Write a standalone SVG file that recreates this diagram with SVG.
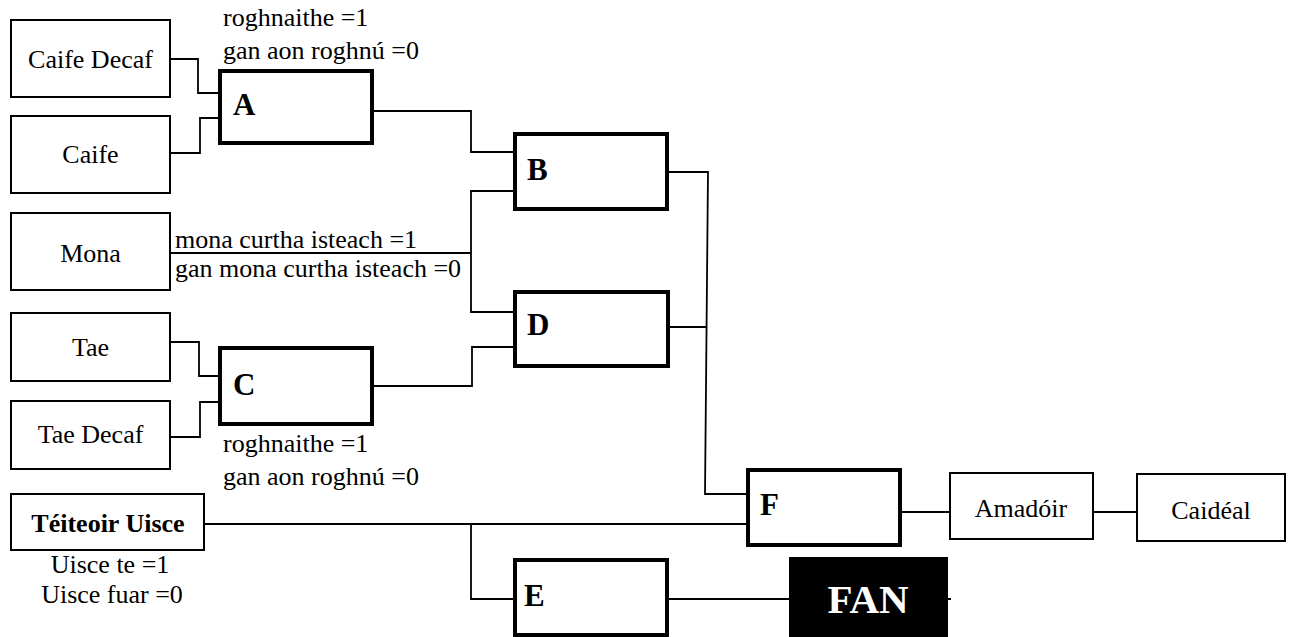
<svg xmlns="http://www.w3.org/2000/svg" width="1290" height="637" viewBox="0 0 1290 637">
<style>
  .thin{fill:#fff;stroke:#000;stroke-width:2}
  .thick{fill:#fff;stroke:#000;stroke-width:4}
  .conn{fill:none;stroke:#000;stroke-width:1.8}
  .t{font-family:"Liberation Serif","Times New Roman",serif;font-size:26px;fill:#000}
  .c{text-anchor:middle}
  .lbl{font-family:"Liberation Serif","Times New Roman",serif;font-size:31px;font-weight:bold;fill:#000}
</style>
<rect width="1290" height="637" fill="#fff"/>
<g id="connectors">
  <path class="conn" d="M171,59 H198 V93 H218"/>
  <path class="conn" d="M171,153 H200 V118 H218"/>
  <path class="conn" d="M374,111 H471 V152 H513"/>
  <path class="conn" d="M171,253 H471"/>
  <path class="conn" d="M513,191 H471 V312 H513"/>
  <path class="conn" d="M171,342 H199 V376 H218"/>
  <path class="conn" d="M171,437 H200 V402 H218"/>
  <path class="conn" d="M374,386 H472 V347 H513"/>
  <path class="conn" d="M669,172 H708 L705,494 H746"/>
  <path class="conn" d="M670,327 H707"/>
  <path class="conn" d="M205,524 H746"/>
  <path class="conn" d="M471,524 V599 H513"/>
  <path class="conn" d="M902,512 H949"/>
  <path class="conn" d="M1094,512 H1136"/>
  <path class="conn" d="M669,599 H951"/>
</g>
<g id="caife-decaf"><rect class="thin" x="11" y="20" width="159" height="77"/><text class="t c" x="90.5" y="68">Caife Decaf</text></g>
<g id="caife"><rect class="thin" x="11" y="116" width="159" height="77"/><text class="t c" x="90.5" y="163">Caife</text></g>
<g id="mona"><rect class="thin" x="11" y="213" width="159" height="77"/><text class="t c" x="90.5" y="262">Mona</text></g>
<g id="tae"><rect class="thin" x="11" y="313" width="159" height="68"/><text class="t c" x="90.5" y="356">Tae</text></g>
<g id="tae-decaf"><rect class="thin" x="11" y="401" width="159" height="68"/><text class="t c" x="90.5" y="443">Tae Decaf</text></g>
<g id="teiteoir"><rect class="thin" x="11" y="494" width="193" height="56"/><text class="t c" x="108" y="532" font-weight="bold">Téiteoir Uisce</text>
  <text class="t c" x="110" y="573">Uisce te =1</text><text class="t c" x="112" y="603">Uisce fuar =0</text></g>
<g id="A"><rect class="thick" x="220" y="71" width="152" height="72"/><text class="lbl" x="233" y="115">A</text>
  <text class="t" x="223" y="26">roghnaithe =1</text><text class="t" x="223" y="59">gan aon roghnú =0</text></g>
<g id="B"><rect class="thick" x="515" y="134" width="152" height="75"/><text class="lbl" x="527" y="180">B</text></g>
<g id="mona-label"><text class="t" x="175" y="248">mona curtha isteach =1</text><text class="t" x="175" y="277">gan mona curtha isteach =0</text></g>
<g id="D"><rect class="thick" x="515" y="292" width="153" height="74"/><text class="lbl" x="527" y="335">D</text></g>
<g id="C"><rect class="thick" x="220" y="348" width="152" height="76"/><text class="lbl" x="233" y="395">C</text>
  <text class="t" x="223" y="452">roghnaithe =1</text><text class="t" x="223" y="485">gan aon roghnú =0</text></g>
<g id="E"><rect class="thick" x="515" y="560" width="152" height="75"/><text class="lbl" x="524" y="606">E</text></g>
<g id="F"><rect class="thick" x="748" y="470" width="152" height="75"/><text class="lbl" x="760" y="515">F</text></g>
<g id="amadoir"><rect class="thin" x="950" y="473" width="143" height="66"/><text class="t c" x="1021" y="517">Amadóir</text></g>
<g id="caideal"><rect class="thin" x="1137" y="474" width="148" height="67"/><text class="t c" x="1211" y="519">Caidéal</text></g>
<g id="FAN"><rect x="789" y="557" width="159" height="80" fill="#000"/><text x="868" y="613" text-anchor="middle" font-family="Liberation Serif,'Times New Roman',serif" font-size="41" font-weight="bold" fill="#fff">FAN</text></g>
</svg>
